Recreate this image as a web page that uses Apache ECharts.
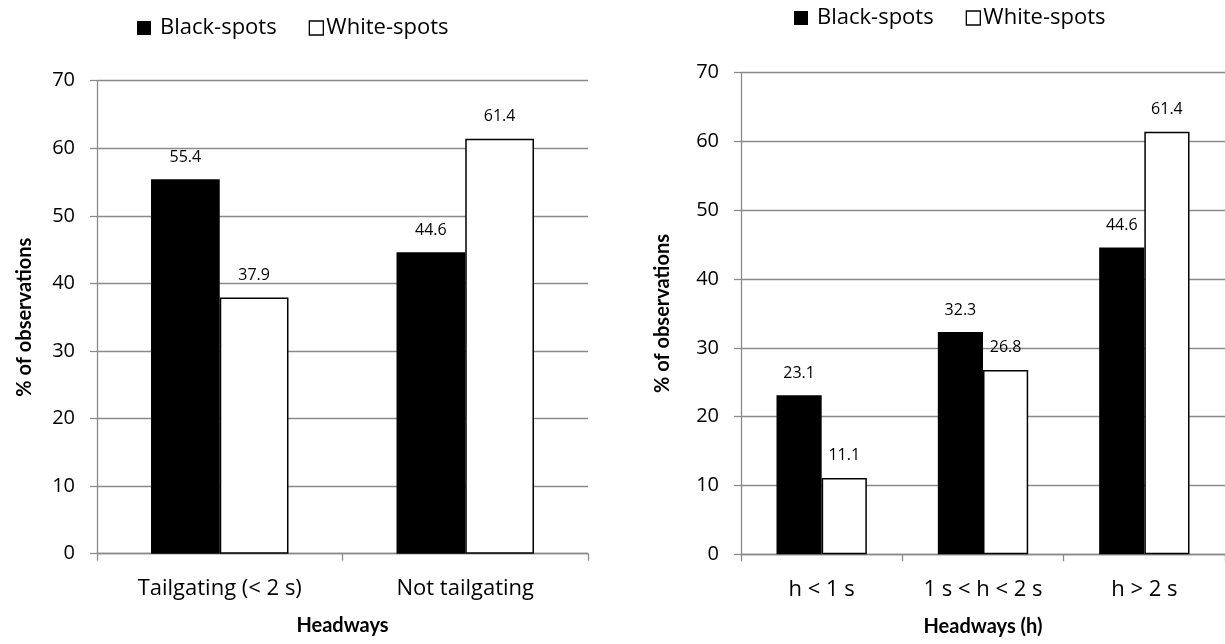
<!DOCTYPE html>
<html>
<head>
<meta charset="utf-8">
<script src="https://cdn.jsdelivr.net/npm/echarts@6/dist/echarts.min.js"></script>
<style>
html,body{margin:0;padding:0;background:#fff;}
#c{width:1225px;height:644px;}
</style>
</head>
<body>
<div id="c"></div>
<script>
const seriesNames = ['Black-spots', 'White-spots'];
const categoriesLeft = ['Tailgating (< 2 s)', 'Not tailgating'];
const blackLeft = [55.4, 44.6];
const whiteLeft = [37.9, 61.4];
const categoriesRight = ['h < 1 s', '1 s < h < 2 s', 'h > 2 s'];
const blackRight = [23.1, 32.3, 44.6];
const whiteRight = [11.1, 26.8, 61.4];
const yTicks = { min: 0, max: 70, interval: 10 };

const FONT = 'Open Sans';
const BOLD_FONT = 'Lato';
const GRID_COLOR = '#8a8a8a';
const chart = echarts.init(document.getElementById('c'), null, { renderer: 'canvas' });

function yAxis(gridIndex, gap) {
  return {
    type: 'value', gridIndex, min: yTicks.min, max: yTicks.max, interval: yTicks.interval,
    name: '% of observations', nameLocation: 'middle', nameGap: gap, nameRotate: 90,
    nameTextStyle: { fontFamily: BOLD_FONT, fontSize: 20, fontWeight: 'bold', color: '#000' },
    axisLine: { show: true, lineStyle: { color: GRID_COLOR, width: 1.3 } },
    axisTick: { show: true, length: 7, lineStyle: { color: GRID_COLOR, width: 1.3 } },
    splitLine: { show: true, lineStyle: { color: GRID_COLOR, width: 1.3 } },
    axisLabel: { fontFamily: FONT, fontSize: 20, color: '#000', margin: 22 }
  };
}
function xAxis(gridIndex, cats, name) {
  return {
    type: 'category', gridIndex, data: cats,
    name, nameLocation: 'middle', nameGap: 62,
    nameTextStyle: { fontFamily: BOLD_FONT, fontSize: 20, fontWeight: 'bold', color: '#000' },
    axisLine: { show: true, lineStyle: { color: GRID_COLOR, width: 1.3 } },
    axisTick: { show: true, length: 7, alignWithLabel: false, lineStyle: { color: GRID_COLOR, width: 1.3 } },
    axisLabel: { fontFamily: FONT, fontSize: 22, color: '#000', margin: 24 },
    splitLine: { show: false }
  };
}
const labelCfg = { show: true, position: 'top', distance: 14, fontFamily: FONT, fontSize: 16, color: '#000' };
function bars(name, data, idx, white) {
  return {
    type: 'bar', name, data, xAxisIndex: idx, yAxisIndex: idx,
    barGap: '0%', barCategoryGap: '44%',
    itemStyle: white ? { color: '#fff', borderColor: '#000', borderWidth: 1.5 } : { color: '#000' },
    label: labelCfg,
    emphasis: { disabled: true }
  };
}
function legend(left, top) {
  return {
    left, top, icon: 'rect', itemWidth: 14, itemHeight: 14, itemGap: 32,
    textStyle: { fontFamily: FONT, fontSize: 22, color: '#000' },
    data: [
      { name: seriesNames[0], itemStyle: { color: '#000' }, textStyle: { padding: [0, 0, 0, 4] } },
      { name: seriesNames[1], itemStyle: { color: '#fff', borderColor: '#000', borderWidth: 1.3 }, textStyle: { padding: [0, 0, 0, -2] } }
    ]
  };
}

chart.setOption({
  animation: false,
  backgroundColor: '#fff',
  legend: [legend(132, 12), legend(789, 2)],
  grid: [
    { left: 97, top: 80.7, width: 491, height: 473 },
    { left: 741, top: 72.7, width: 487, height: 481.6 }
  ],
  xAxis: [xAxis(0, categoriesLeft, 'Headways'), xAxis(1, categoriesRight, 'Headways (h)')],
  yAxis: [yAxis(0, 62), yAxis(1, 68)],
  series: [
    bars(seriesNames[0], blackLeft, 0, false),
    bars(seriesNames[1], whiteLeft, 0, true),
    bars(seriesNames[0], blackRight, 1, false),
    bars(seriesNames[1], whiteRight, 1, true)
  ]
});
</script>
</body>
</html>
